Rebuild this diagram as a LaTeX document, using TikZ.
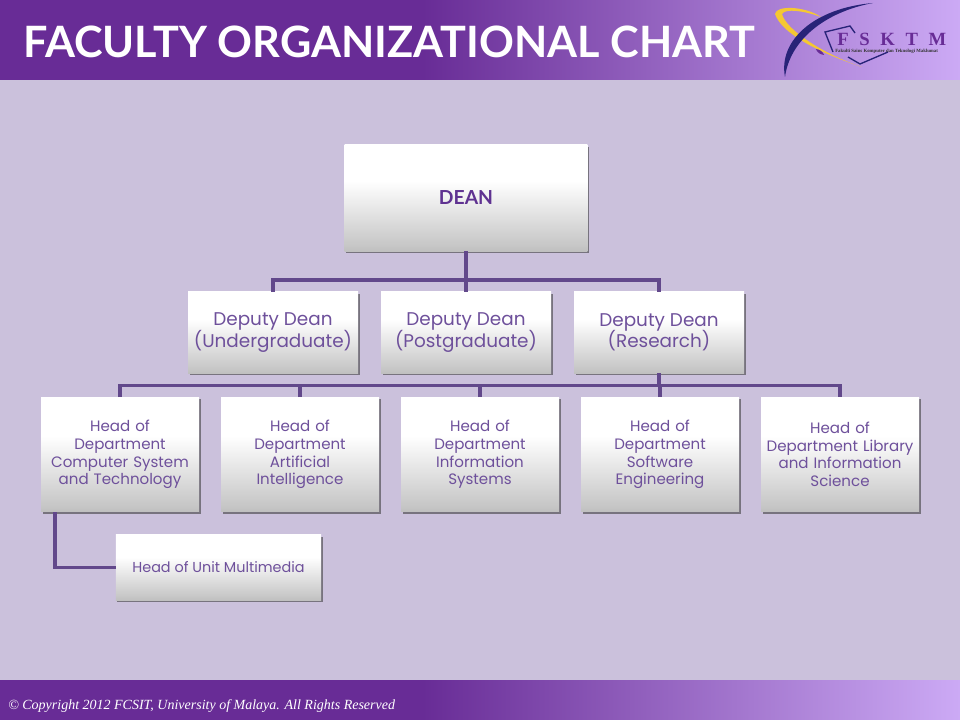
\documentclass[tikz,border=0pt]{standalone}
\usepackage{fontspec}
\setmainfont{Poppins}
\newfontfamily\titlefont{Lato}
\newfontfamily\footfont{Liberation Serif}
\usetikzlibrary{positioning,shadows}
\setlength{\lineskiplimit}{-10pt}
\definecolor{fkbg}{RGB}{203,193,220}
\definecolor{fkdark}{RGB}{104,44,150}
\definecolor{fklight}{RGB}{204,170,245}
\definecolor{fkline}{RGB}{98,72,139}
\definecolor{fktext}{RGB}{110,80,155}
\definecolor{fkdean}{RGB}{95,50,145}
\definecolor{fknavy}{RGB}{40,35,120}
\definecolor{fkgold}{RGB}{245,200,50}
\pgfdeclarehorizontalshading{barshade}{100bp}{color(0bp)=(fkdark);color(25bp)=(fkdark);color(47bp)=(fkdark);color(75bp)=(fklight);color(100bp)=(fklight)}
\pgfdeclareverticalshading{boxshade}{100bp}{color(0bp)=(black!25);color(25bp)=(black!25);color(28bp)=(black!22);color(58bp)=(white);color(100bp)=(white)}
\begin{document}
\begin{tikzpicture}[
  x=0.75pt,y=-0.75pt,
  box/.style={shading=boxshade,inner sep=0pt,outer sep=0pt,align=center,text=fktext,
    drop shadow={shadow xshift=1.2pt,shadow yshift=-1.5pt,opacity=0.6,fill=black!75}},
  deanbox/.style={box,minimum width=182pt,minimum height=80pt,text=fkdean,font=\titlefont\bfseries\fontsize{14.5}{17}\selectfont},
  deputybox/.style={box,minimum width=127.5pt,minimum height=61pt,font=\fontsize{13.8}{16}\selectfont},
  headbox/.style={box,minimum width=118.5pt,minimum height=86pt,text width=116pt,font=\fontsize{11.3}{13.2}\selectfont},
  unitbox/.style={box,minimum width=154pt,minimum height=49pt,font=\fontsize{10.8}{12}\selectfont},
  link/.style={fkline,line width=2.5pt}
]
  \useasboundingbox (0,0) rectangle (960,720);
  \fill[fkbg] (0,0) rectangle (960,720);
  \shade[shading=barshade] (0,0) rectangle (960,80);
  \shade[shading=barshade] (0,680) rectangle (960,720);
  \node[anchor=west,text=white,inner sep=0pt,font=\titlefont\bfseries\fontsize{32.4}{40}\selectfont] (title) at (23,42) {FACULTY ORGANIZATIONAL CHART};
  \node[anchor=west,text=white,inner sep=0pt,font=\footfont\itshape\fontsize{10.5}{12}\selectfont] (copy) at (8,706) {© Copyright 2012 FCSIT, University of Malaya. All Rights Reserved};
  % logo
  \fill[fkgold] (862,67) .. controls (825,55) and (782,35) .. (775,14) .. controls (776,5) and (805,6) .. (821,17) .. controls (805,11) and (785,8) .. (782,14) .. controls (786,30) and (825,55) .. (862,67) -- cycle;
  \fill[fknavy] (873,3) .. controls (825,12) and (790,40) .. (785,77) .. controls (778,40) and (815,8) .. (873,3) -- cycle;
  \fill[fkdark,rotate around={-35:(820,52)}] (815,52) .. controls (818,50) and (822,50) .. (825,52) .. controls (822,54) and (818,54) .. (815,52) -- cycle;
  \draw[fknavy,line width=1pt] (833,52) -- (825,32) -- (850,26) -- (855,33);
  \draw[fknavy,line width=1pt] (848,57) -- (860,64) -- (888,52);
  \node[anchor=west,inner sep=0pt,text=fkdark,font=\footfont\bfseries\fontsize{14}{15}\selectfont] (fsktm) at (837,39) {F\hspace{8pt}S\hspace{8pt}K\hspace{8pt}T\hspace{8pt}M};
  \node[anchor=west,inner sep=0pt,text=black!80,font=\footfont\bfseries\fontsize{3.6}{4}\selectfont] (fsktmsub) at (835,51.5) {Fakulti Sains Komputer dan Teknologi Maklumat};
  % chart
  \node[deanbox] (dean) at (466,198) {DEAN};
  \node[deputybox] (postgrad) at (466,332.5) {Deputy Dean\\(Postgraduate)};
  \node[deputybox,left=17.25pt of postgrad] (undergrad) {Deputy Dean\\(Undergraduate)};
  \node[deputybox,right=17.25pt of postgrad] (research) {Deputy Dean\\(Research)};
  \node[headbox] (hodcs) at (120,454.5) {Head of\\Department\\Computer System\\and Technology};
  \node[headbox,right=16.5pt of hodcs] (hodai) {Head of\\Department\\Artificial\\Intelligence};
  \node[headbox,right=16.5pt of hodai] (hodis) {Head of\\Department\\Information\\Systems};
  \node[headbox,right=16.5pt of hodis] (hodse) {Head of\\Department\\Software\\Engineering};
  \node[headbox,right=16.5pt of hodse] (hodlib) {Head of\\Department Library\\and Information\\Science};
  \node[unitbox] (unit) at (218.5,567.5) {Head of Unit Multimedia};
  \coordinate[below=21.5pt of dean] (deanbus);
  \coordinate[below=9pt of research] (resbus);
  \coordinate (unitdrop) at (55,512);
  \draw[link] (dean.south) -- (postgrad.north);
  \draw[link] (undergrad.north) |- (deanbus) -| (research.north);
  \draw[link] (research.south) -- (resbus);
  \draw[link] (hodcs.north) |- (resbus) -| (hodlib.north);
  \draw[link] (hodai.north) -- (hodai.north |- resbus);
  \draw[link] (hodis.north) -- (hodis.north |- resbus);
  \draw[link] (hodse.north) -- (hodse.north |- resbus);
  \draw[link] (unitdrop) |- (unit.west);
\end{tikzpicture}
\end{document}
